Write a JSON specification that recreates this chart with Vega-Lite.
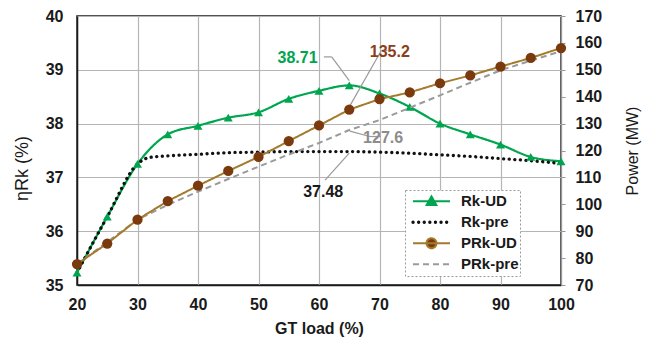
{
  "$schema": "https://vega.github.io/schema/vega-lite/v6.json",
  "width": 484,
  "height": 269,
  "autosize": {"type": "none"},
  "padding": {"left": 77, "top": 16, "right": 85, "bottom": 58},
  "background": "white",
  "config": {
    "font": "Liberation Sans",
    "view": {"stroke": "#1a1a1a", "strokeWidth": 1.5},
    "axis": {"labelFont": "Liberation Sans", "titleFont": "Liberation Sans", "labelColor": "#1a1a1a", "titleColor": "#1a1a1a", "labelOverlap": false},
    "axisY": {"labelOverlap": false},
    "axisRight": {"labelOverlap": false}
  },
  "datasets": {
    "eff": [
      {"load": 20, "eff": 35.23, "series": "Rk-UD"},
      {"load": 25, "eff": 36.27, "series": "Rk-UD"},
      {"load": 30, "eff": 37.25, "series": "Rk-UD"},
      {"load": 35, "eff": 37.80, "series": "Rk-UD"},
      {"load": 40, "eff": 37.96, "series": "Rk-UD"},
      {"load": 45, "eff": 38.11, "series": "Rk-UD"},
      {"load": 50, "eff": 38.21, "series": "Rk-UD"},
      {"load": 55, "eff": 38.46, "series": "Rk-UD"},
      {"load": 60, "eff": 38.61, "series": "Rk-UD"},
      {"load": 65, "eff": 38.71, "series": "Rk-UD"},
      {"load": 70, "eff": 38.56, "series": "Rk-UD"},
      {"load": 75, "eff": 38.31, "series": "Rk-UD"},
      {"load": 80, "eff": 38.00, "series": "Rk-UD"},
      {"load": 85, "eff": 37.80, "series": "Rk-UD"},
      {"load": 90, "eff": 37.61, "series": "Rk-UD"},
      {"load": 95, "eff": 37.38, "series": "Rk-UD"},
      {"load": 100, "eff": 37.30, "series": "Rk-UD"},
      {"load": 20, "eff": 35.23, "series": "Rk-pre"},
      {"load": 25, "eff": 36.27, "series": "Rk-pre"},
      {"load": 30, "eff": 37.25, "series": "Rk-pre"},
      {"load": 32, "eff": 37.37, "series": "Rk-pre"},
      {"load": 35, "eff": 37.40, "series": "Rk-pre"},
      {"load": 40, "eff": 37.43, "series": "Rk-pre"},
      {"load": 45, "eff": 37.46, "series": "Rk-pre"},
      {"load": 50, "eff": 37.47, "series": "Rk-pre"},
      {"load": 55, "eff": 37.48, "series": "Rk-pre"},
      {"load": 60, "eff": 37.48, "series": "Rk-pre"},
      {"load": 65, "eff": 37.48, "series": "Rk-pre"},
      {"load": 70, "eff": 37.47, "series": "Rk-pre"},
      {"load": 75, "eff": 37.45, "series": "Rk-pre"},
      {"load": 80, "eff": 37.42, "series": "Rk-pre"},
      {"load": 85, "eff": 37.39, "series": "Rk-pre"},
      {"load": 90, "eff": 37.35, "series": "Rk-pre"},
      {"load": 95, "eff": 37.31, "series": "Rk-pre"},
      {"load": 100, "eff": 37.26, "series": "Rk-pre"}
    ],
    "pow": [
      {"load": 20, "power": 77.8, "series": "PRk-UD"},
      {"load": 25, "power": 85.4, "series": "PRk-UD"},
      {"load": 30, "power": 94.3, "series": "PRk-UD"},
      {"load": 35, "power": 101.2, "series": "PRk-UD"},
      {"load": 40, "power": 106.9, "series": "PRk-UD"},
      {"load": 45, "power": 112.4, "series": "PRk-UD"},
      {"load": 50, "power": 117.6, "series": "PRk-UD"},
      {"load": 55, "power": 123.5, "series": "PRk-UD"},
      {"load": 60, "power": 129.3, "series": "PRk-UD"},
      {"load": 65, "power": 135.2, "series": "PRk-UD"},
      {"load": 70, "power": 139.1, "series": "PRk-UD"},
      {"load": 75, "power": 141.6, "series": "PRk-UD"},
      {"load": 80, "power": 145.0, "series": "PRk-UD"},
      {"load": 85, "power": 147.9, "series": "PRk-UD"},
      {"load": 90, "power": 151.2, "series": "PRk-UD"},
      {"load": 95, "power": 154.4, "series": "PRk-UD"},
      {"load": 100, "power": 158.1, "series": "PRk-UD"},
      {"load": 20, "power": 77.8, "series": "PRk-pre"},
      {"load": 25, "power": 86.0, "series": "PRk-pre"},
      {"load": 30, "power": 94.3, "series": "PRk-pre"},
      {"load": 35, "power": 99.8, "series": "PRk-pre"},
      {"load": 40, "power": 104.7, "series": "PRk-pre"},
      {"load": 45, "power": 109.4, "series": "PRk-pre"},
      {"load": 50, "power": 114.0, "series": "PRk-pre"},
      {"load": 55, "power": 118.5, "series": "PRk-pre"},
      {"load": 60, "power": 122.8, "series": "PRk-pre"},
      {"load": 65, "power": 127.6, "series": "PRk-pre"},
      {"load": 70, "power": 131.3, "series": "PRk-pre"},
      {"load": 75, "power": 135.9, "series": "PRk-pre"},
      {"load": 80, "power": 140.5, "series": "PRk-pre"},
      {"load": 85, "power": 145.2, "series": "PRk-pre"},
      {"load": 90, "power": 149.8, "series": "PRk-pre"},
      {"load": 95, "power": 153.4, "series": "PRk-pre"},
      {"load": 100, "power": 156.9, "series": "PRk-pre"}
    ],
    "notes": [
      {"load": 56.45, "eff": 39.22, "label": "38.71", "kind": "UD"},
      {"load": 71.7, "eff": 39.34, "label": "135.2", "kind": "PUD"},
      {"load": 70.6, "eff": 37.73, "label": "127.6", "kind": "Ppre"},
      {"load": 60.7, "eff": 36.73, "label": "37.48", "kind": "pre"}
    ],
    "leaders": [
      {"load": 60.8, "eff": 39.24, "load2": 62.1, "eff2": 39.24},
      {"load": 62.1, "eff": 39.24, "load2": 65.0, "eff2": 38.80},
      {"load": 71.3, "eff": 39.36, "load2": 70.3, "eff2": 39.36},
      {"load": 70.3, "eff": 39.36, "load2": 65.1, "eff2": 38.33},
      {"load": 65.1, "eff": 37.86, "load2": 68.4, "eff2": 37.76},
      {"load": 68.4, "eff": 37.76, "load2": 70.2, "eff2": 37.76},
      {"load": 61.0, "eff": 36.95, "load2": 65.0, "eff2": 37.45}
    ]
  },
  "layer": [
    {
      "layer": [
        {
          "data": {"name": "eff"},
          "transform": [{"filter": "datum.series === 'Rk-UD'"}],
          "mark": {"type": "line", "interpolate": "monotone", "strokeWidth": 2.2},
          "encoding": {
            "x": {"field": "load", "type": "quantitative", "scale": {"domain": [20, 100], "nice": false},
              "axis": {"title": "GT load (%)", "values": [20, 25, 30, 35, 40, 45, 50, 55, 60, 65, 70, 75, 80, 85, 90, 95, 100],
                "labelExpr": "datum.value % 10 === 0 ? datum.label : ''",
                "grid": true, "gridColor": {"condition": {"test": "datum.value % 10 === 0", "value": "#b5b5b5"}, "value": "#e2e2e2"}, "gridWidth": 1.2,
                "tickSize": 0, "domainColor": "#1a1a1a", "domainWidth": 1.5,
                "labelFontSize": 16, "labelFontWeight": "bold", "labelPadding": 11, "labelFlush": false, "labelOverlap": false,
                "titleFontSize": 16, "titleFontWeight": "bold", "titlePadding": 8}},
            "y": {"field": "eff", "type": "quantitative", "scale": {"domain": [35, 40], "nice": false, "zero": false},
              "axis": {"title": "ηRk (%)", "values": [35, 35.5, 36, 36.5, 37, 37.5, 38, 38.5, 39, 39.5, 40],
                "labelExpr": "datum.value % 1 === 0 ? datum.label : ''",
                "grid": true, "gridColor": {"condition": {"test": "datum.value % 1 === 0", "value": "#b5b5b5"}, "value": "#e2e2e2"}, "gridWidth": 1.2,
                "tickSize": 0, "domainColor": "#1a1a1a", "domainWidth": 1.5,
                "labelFontSize": 16, "labelFontWeight": "bold", "labelPadding": 14, "labelOverlap": false,
                "titleFontSize": 18, "titleFontWeight": "normal",
                "titleX": -55, "titleY": 152, "titleAngle": 270, "titleAlign": "center", "titleBaseline": "middle"}},
            "color": {"field": "series", "type": "nominal",
              "scale": {"domain": ["Rk-UD", "Rk-pre", "PRk-UD", "PRk-pre"], "range": ["#00A54F", "#111111", "#A47A2C", "#9a9a9a"]},
              "legend": {"orient": "none", "legendX": 328, "legendY": 174, "title": null,
                "symbolSize": 1369, "clipHeight": 20.5, "rowPadding": 0, "padding": 1,
                "symbolOffset": 18, "labelOffset": 22, "labelFontSize": 15, "labelFontWeight": "bold", "labelColor": "#1a1a1a",
                "fillColor": "white", "strokeColor": "#999999",
                "labelExpr": "datum.label + '    '",
                "encode": {
                  "legend": {"update": {"strokeDash": {"value": [2, 2]}}},
                  "symbols": {"update": {
                    "shape": {"signal": "datum.value === 'Rk-UD' ? 'M-1,0H1M0,-0.26L0.26,0.2L-0.26,0.2Z' : (datum.value === 'PRk-UD' ? 'M-1,0H1M0.27,0A0.27,0.27,0,1,1,-0.27,0A0.27,0.27,0,1,1,0.27,0Z' : 'M-1,0H1')"},
                    "fill": {"signal": "datum.value === 'Rk-UD' ? '#00A54F' : (datum.value === 'PRk-UD' ? '#7B3A0E' : 'transparent')"},
                    "strokeWidth": {"signal": "datum.value === 'Rk-pre' ? 3.3 : 2"},
                    "strokeCap": {"signal": "datum.value === 'Rk-pre' ? 'round' : 'butt'"},
                    "opacity": {"value": 1}
                  }}
                }}},
            "strokeDash": {"field": "series", "type": "nominal",
              "scale": {"domain": ["Rk-UD", "Rk-pre", "PRk-UD", "PRk-pre"], "range": [[1, 0], [0.1, 5.5], [1, 0], [6, 4]]}}
          }
        },
        {
          "data": {"name": "eff"},
          "transform": [{"filter": "datum.series === 'Rk-pre'"}],
          "mark": {"type": "line", "interpolate": "monotone", "strokeWidth": 3.3, "strokeCap": "round"},
          "encoding": {
            "x": {"field": "load", "type": "quantitative"},
            "y": {"field": "eff", "type": "quantitative"},
            "color": {"field": "series", "type": "nominal"},
            "strokeDash": {"field": "series", "type": "nominal"}
          }
        },
        {
          "data": {"name": "eff"},
          "transform": [{"filter": "datum.series === 'Rk-UD'"}],
          "mark": {"type": "point", "shape": "triangle-up", "filled": true, "size": 80, "color": "#00A54F", "opacity": 1},
          "encoding": {
            "x": {"field": "load", "type": "quantitative"},
            "y": {"field": "eff", "type": "quantitative"}
          }
        },
        {
          "data": {"name": "leaders"},
          "mark": {"type": "rule", "color": "#9a9a9a", "strokeWidth": 1.2},
          "encoding": {
            "x": {"field": "load", "type": "quantitative"},
            "y": {"field": "eff", "type": "quantitative"},
            "x2": {"field": "load2"},
            "y2": {"field": "eff2"}
          }
        },
        {
          "data": {"name": "notes"},
          "mark": {"type": "text", "fontSize": 16, "fontWeight": "bold", "baseline": "middle"},
          "encoding": {
            "x": {"field": "load", "type": "quantitative"},
            "y": {"field": "eff", "type": "quantitative"},
            "text": {"field": "label"},
            "align": {"condition": {"test": "datum.kind === 'PUD' || datum.kind === 'Ppre'", "value": "left"}, "value": "center"},
            "color": {"condition": [
              {"test": "datum.kind === 'UD'", "value": "#00A54F"},
              {"test": "datum.kind === 'PUD'", "value": "#8B3E1A"},
              {"test": "datum.kind === 'Ppre'", "value": "#8c8c8c"}
            ], "value": "#1a1a1a"}
          }
        }
      ]
    },
    {
      "data": {"name": "pow"},
      "encoding": {
        "x": {"field": "load", "type": "quantitative"},
        "y": {"field": "power", "type": "quantitative", "scale": {"domain": [70, 170], "nice": false, "zero": false},
          "axis": {"orient": "right", "title": "Power (MW)", "values": [70, 80, 90, 100, 110, 120, 130, 140, 150, 160, 170],
            "labelExpr": "datum.label",
            "grid": false, "tickSize": 4, "tickColor": "#999999", "domainColor": "#999999", "domainWidth": 1.2,
            "labelFontSize": 16, "labelFontWeight": "bold", "labelPadding": 10, "labelOverlap": false, "labelSeparation": 0,
            "titleFontSize": 16, "titleFontWeight": "normal",
            "titleX": 71, "titleY": 134.5, "titleAngle": 270, "titleAlign": "center", "titleBaseline": "middle"}}
      },
      "layer": [
        {
          "transform": [{"filter": "datum.series === 'PRk-pre'"}],
          "mark": {"type": "line", "strokeWidth": 2},
          "encoding": {
            "color": {"field": "series", "type": "nominal"},
            "strokeDash": {"field": "series", "type": "nominal"}
          }
        },
        {
          "transform": [{"filter": "datum.series === 'PRk-UD'"}],
          "mark": {"type": "line", "strokeWidth": 2},
          "encoding": {
            "color": {"field": "series", "type": "nominal"},
            "strokeDash": {"field": "series", "type": "nominal"}
          }
        },
        {
          "transform": [{"filter": "datum.series === 'PRk-UD'"}],
          "mark": {"type": "point", "shape": "circle", "filled": true, "size": 105, "color": "#7B3A0E", "opacity": 1}
        }
      ]
    }
  ],
  "resolve": {"scale": {"y": "independent"}}
}
